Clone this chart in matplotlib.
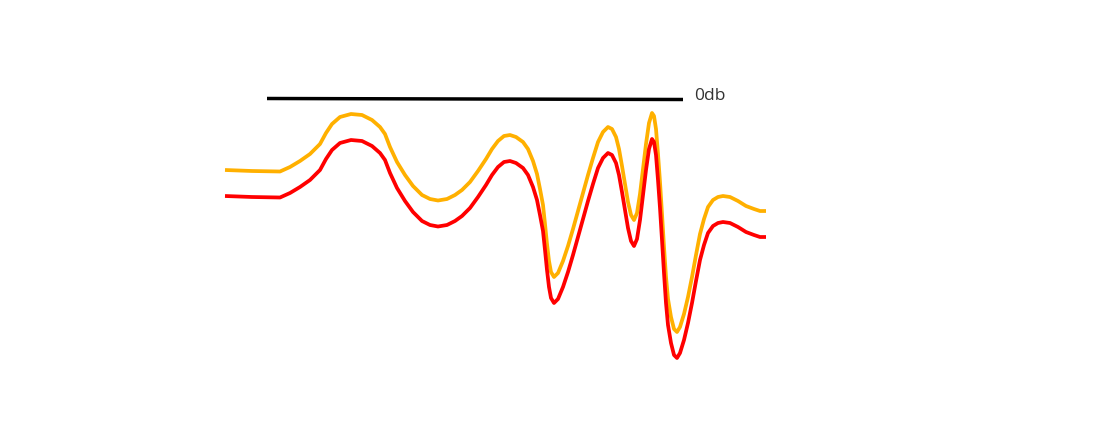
import matplotlib
matplotlib.use("Agg")
import matplotlib.pyplot as plt

# ----------------------------------------
# DATA (x = position along response, y = level in dB)
# ----------------------------------------
freq = [
    225, 252, 280, 290, 300, 310, 320, 326, 332, 340,
    351, 362, 372, 380, 385, 390, 397, 405, 413, 422,
    430, 438, 447, 455, 462, 470, 478, 486, 492, 498,
    504, 510, 516, 523, 528, 533, 537, 540, 543, 545,
    547, 549, 551, 554, 558, 563, 568, 573, 578, 583,
    588, 593, 598, 603, 608, 612, 616, 619, 622, 625,
    628, 631, 634, 637, 640, 643, 646, 649, 652, 654,
    656, 658, 660, 662, 664, 666, 668, 671, 674, 677,
    680, 684, 688, 692, 696, 700, 704, 708, 713, 718,
    723, 730, 738, 746, 754, 760, 766,
]

level_orange = [
    -7.2, -7.3, -7.35, -6.9, -6.3, -5.6, -4.6, -3.5, -2.6, -1.9,
    -1.6, -1.7, -2.2, -2.9, -3.6, -4.9, -6.4, -7.7, -8.8, -9.7,
    -10.1, -10.25, -10.1, -9.7, -9.2, -8.4, -7.3, -6.1, -5.1, -4.3,
    -3.8, -3.7, -3.9, -4.4, -5.1, -6.3, -7.6, -9.1, -10.7, -12.6,
    -14.6, -16.3, -17.4, -17.9, -17.5, -16.3, -14.8, -13.1, -11.3, -9.5,
    -7.7, -6.0, -4.4, -3.4, -2.9, -3.1, -3.9, -5.1, -6.8, -8.6,
    -10.4, -11.7, -12.2, -11.5, -9.6, -7.1, -4.6, -2.5, -1.5, -1.8,
    -3.1, -5.6, -8.4, -11.6, -14.9, -17.9, -20.1, -21.9, -23.1, -23.4,
    -22.9, -21.6, -19.9, -17.9, -15.7, -13.6, -12.1, -10.9, -10.2, -9.9,
    -9.8, -9.9, -10.3, -10.8, -11.1, -11.3, -11.3,
]

level_red = [
    -9.8, -9.9, -9.95, -9.5, -8.9, -8.2, -7.2, -6.1, -5.2, -4.5,
    -4.2, -4.3, -4.8, -5.5, -6.2, -7.5, -9.0, -10.3, -11.4, -12.3,
    -12.7, -12.85, -12.7, -12.3, -11.8, -11.0, -9.9, -8.7, -7.7, -6.9,
    -6.4, -6.3, -6.5, -7.0, -7.7, -8.9, -10.2, -11.7, -13.3, -15.2,
    -17.2, -18.9, -20.0, -20.5, -20.1, -18.9, -17.4, -15.7, -13.9, -12.1,
    -10.3, -8.6, -7.0, -6.0, -5.5, -5.7, -6.5, -7.7, -9.4, -11.2,
    -13.0, -14.3, -14.8, -14.1, -12.2, -9.7, -7.2, -5.1, -4.1, -4.4,
    -5.7, -8.2, -11.0, -14.2, -17.5, -20.5, -22.7, -24.5, -25.7, -26.0,
    -25.5, -24.2, -22.5, -20.5, -18.3, -16.2, -14.7, -13.5, -12.8, -12.5,
    -12.4, -12.5, -12.9, -13.4, -13.7, -13.9, -13.9,
]

ref_x = [267, 683]
ref_level = [-0.05, -0.15]
ref_label = "0db"

# ----------------------------------------
# PLOT
# ----------------------------------------
fig = plt.figure(figsize=(11.07, 4.35), dpi=100)
ax = fig.add_axes([0, 0, 1, 1])

ax.plot(ref_x, ref_level, color="black", lw=2.5, solid_capstyle="butt")
ax.text(694, 0.3, ref_label, fontsize=12.5, color="#333333",
        family=["Open Sans", "DejaVu Sans"], ha="left", va="center")

ax.plot(freq, level_orange, color="#FFB000", lw=2.7,
        solid_joinstyle="round", solid_capstyle="butt")
ax.plot(freq, level_red, color="#FF0000", lw=2.7,
        solid_joinstyle="round", solid_capstyle="butt")

ax.set_xlim(0, 1107)
ax.set_ylim(-33.6, 9.9)
ax.axis("off")

fig.savefig("out.png", dpi=100, facecolor="white")
